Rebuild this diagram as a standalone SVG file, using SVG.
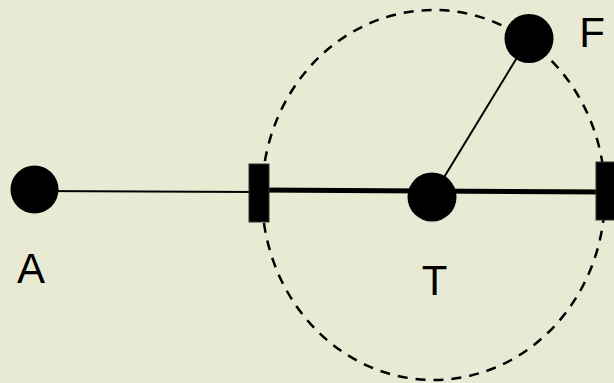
<svg xmlns="http://www.w3.org/2000/svg" width="614" height="383" viewBox="0 0 614 383">
<style>
.node{fill:#000;}
.bar{fill:#000;stroke:#333;stroke-width:1;}
.lbl{font-family:"Liberation Sans",Arial,sans-serif;font-size:42px;fill:#000;text-anchor:middle;}
.thin{stroke:#000;stroke-width:2;fill:none;}
.thick{stroke:#000;stroke-width:5;fill:none;}
.dash{stroke:#000;stroke-width:2.5;fill:none;stroke-dasharray:10 8;}
</style>
<rect width="614" height="383" fill="#e8ead4"/>
<ellipse class="dash" cx="433.5" cy="195" rx="171.5" ry="185"/>
<g id="connectors">
<line class="thin" x1="35" y1="191" x2="259" y2="192"/>
<line class="thick" x1="259" y1="190" x2="606" y2="192"/>
<line class="thin" x1="432" y1="197" x2="529" y2="38"/>
</g>
<g id="A"><circle class="node" cx="34.5" cy="189.5" r="24"/><text class="lbl" x="31" y="283">A</text></g>
<g id="bar1"><rect class="bar" x="249" y="164" width="20" height="58"/></g>
<g id="T"><circle class="node" cx="432" cy="197" r="24.5"/><text class="lbl" x="434.5" y="295">T</text></g>
<g id="F"><circle class="node" cx="529" cy="38.5" r="24.5"/><text class="lbl" x="592" y="47">F</text></g>
<g id="bar2"><rect class="bar" x="596" y="162" width="20" height="58"/></g>
</svg>
